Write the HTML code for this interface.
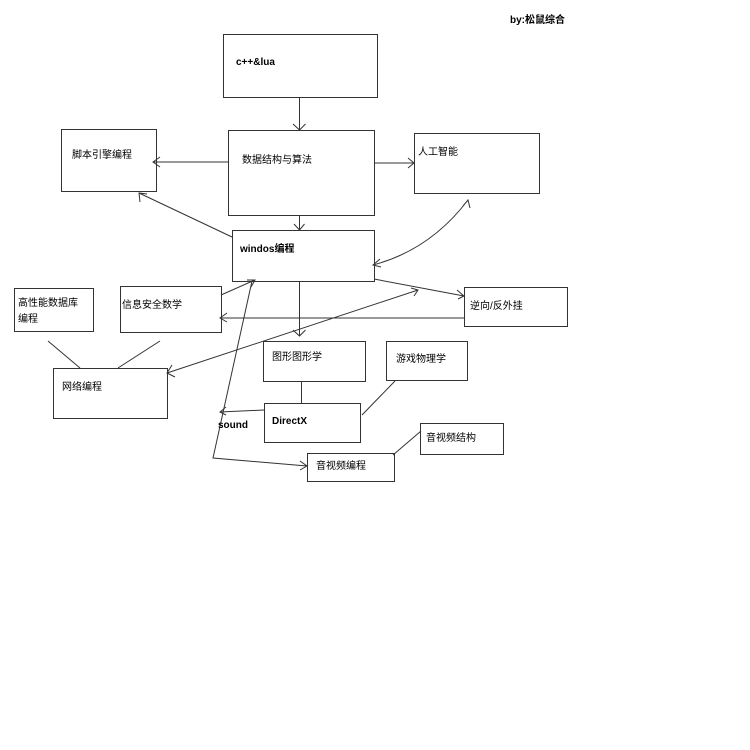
<!DOCTYPE html>
<html><head><meta charset="utf-8"><style>
html,body{margin:0;padding:0;background:#fff;width:750px;height:750px;overflow:hidden}
svg text{font-family:"Liberation Sans","Noto Sans CJK SC",sans-serif;font-size:10px;fill:#000}
</style></head><body>
<svg width="750" height="750" viewBox="0 0 750 750" xmlns="http://www.w3.org/2000/svg">
<g fill="none" stroke="#333" stroke-width="1">
<rect x="223.5" y="34.5" width="154" height="63"/>
<rect x="61.5" y="129.5" width="95" height="62"/>
<rect x="228.5" y="130.5" width="146" height="85"/>
<rect x="414.5" y="133.5" width="125" height="60"/>
<rect x="232.5" y="230.5" width="142" height="51"/>
<rect x="14.5" y="288.5" width="79" height="43"/>
<rect x="120.5" y="286.5" width="101" height="46"/>
<rect x="464.5" y="287.5" width="103" height="39"/>
<rect x="53.5" y="368.5" width="114" height="50"/>
<rect x="263.5" y="341.5" width="102" height="40"/>
<rect x="386.5" y="341.5" width="81" height="39"/>
<rect x="264.5" y="403.5" width="96" height="39"/>
<rect x="420.5" y="423.5" width="83" height="31"/>
<rect x="307.5" y="453.5" width="87" height="28"/>
<!-- connectors -->
<path d="M299.5 97v33M293 124l6.5 6 6-6"/>
<path d="M228 162h-75M160 157l-7 5 7 5"/>
<path d="M374 163h40M408 158l6 5-6 5"/>
<path d="M299.5 215v15M294 224l5.5 6 5-6"/>
<path d="M232 237L139 193M140 202l-1-9 8 1"/>
<path d="M468 200Q430 250 373 265M380 259l-7 6 8 2M463 206l5-6 2 8"/>
<path d="M374 279L464 296M457 290l7 6-6 3"/>
<path d="M464 318L220 318M227 313l-7 5 7 4"/>
<path d="M221 295L255 280M247 280l8 0-4 7"/>
<path d="M167 373L418 290M411 288l7 2-4 6M172 365l-5 8 8 4"/>
<path d="M299.5 282v54M293 330l6.5 6 6-6"/>
<path d="M48 341L80 368M160 341L118 368"/>
<path d="M301.5 381v22M395 381L362 415"/>
<path d="M264 410L220 412M226 407l-6 5 6 3"/>
<path d="M252 281L213 458L307 466M300 461l7 5-7 4"/>
<path d="M393 455L421 431"/>
</g>
<text x="510" y="23" font-weight="bold">by:松鼠综合</text>
<text x="236" y="65" font-weight="bold">c++&amp;lua</text>
<text x="72" y="158">脚本引擎编程</text>
<text x="242" y="163">数据结构与算法</text>
<text x="418" y="155">人工智能</text>
<text x="240" y="252" font-weight="bold">windos编程</text>
<text x="18" y="306">高性能数据库</text>
<text x="18" y="322">编程</text>
<text x="122" y="308">信息安全数学</text>
<text x="470" y="309">逆向/反外挂</text>
<text x="62" y="390">网络编程</text>
<text x="272" y="360">图形图形学</text>
<text x="396" y="362">游戏物理学</text>
<text x="272" y="424" font-weight="bold">DirectX</text>
<text x="218" y="428" font-weight="bold">sound</text>
<text x="426" y="441">音视频结构</text>
<text x="316" y="469">音视频编程</text>
</svg>
</body></html>
